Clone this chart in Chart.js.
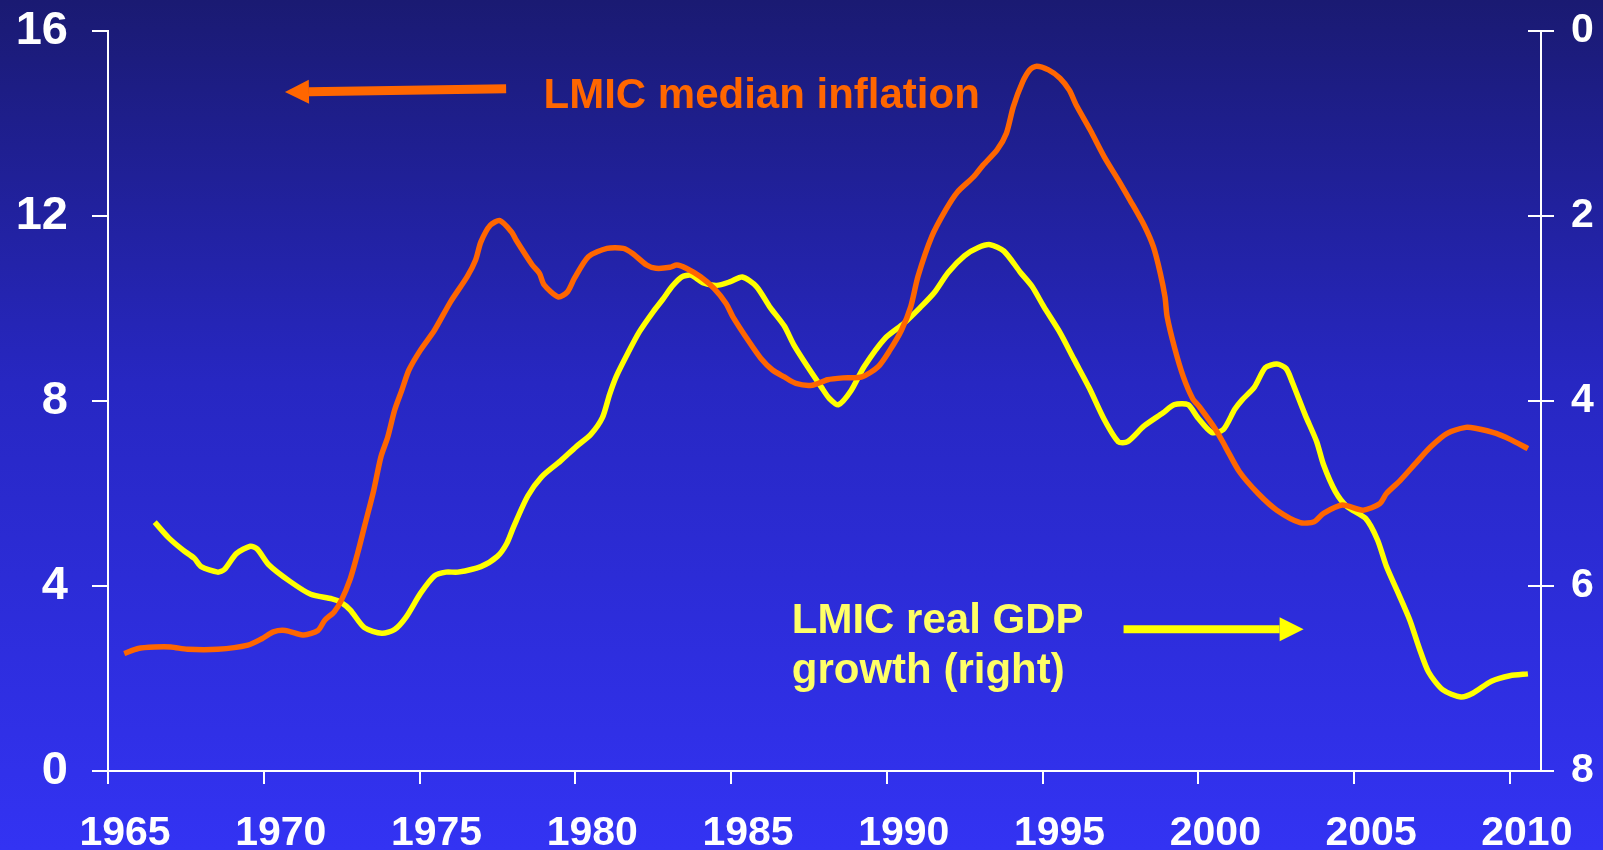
<!DOCTYPE html>
<html><head><meta charset="utf-8">
<script src="https://cdn.jsdelivr.net/npm/chart.js@4"></script>
<style>html,body{margin:0;padding:0;background:#1a1a72;overflow:hidden}canvas{display:block}</style>
</head><body>
<canvas id="c" width="1603" height="850"></canvas>
<script>
// ---- data ----
const inflationYears = [1965.52,1965.97,1966.5,1967.02,1967.55,1968.52,1969.49,1969.94,1970.31,1970.69,1971.29,1971.74,1971.96,1972.26,1972.49,1972.78,1973.01,1973.23,1973.53,1973.76,1973.98,1974.2,1974.43,1974.66,1975.03,1975.48,1976.0,1976.53,1976.8,1976.97,1977.27,1977.58,1977.95,1978.1,1978.62,1978.85,1979.0,1979.45,1979.75,1979.97,1980.42,1981.02,1981.54,1981.84,1982.29,1982.59,1983.04,1983.26,1983.56,1984.01,1984.46,1984.84,1985.06,1985.58,1985.96,1986.33,1986.71,1987.08,1987.6,1988.1,1988.6,1989.2,1989.72,1990.1,1990.47,1990.77,1991.0,1991.44,1991.89,1992.27,1992.79,1993.09,1993.54,1993.84,1994.06,1994.36,1994.59,1994.81,1995.19,1995.56,1995.86,1996.08,1996.53,1996.98,1997.43,1997.81,1998.26,1998.56,1998.78,1998.93,1999.0,1999.23,1999.52,1999.82,2000.04,2000.57,2000.87,2001.32,2001.92,2002.52,2003.27,2003.72,2004.02,2004.62,2005.29,2005.82,2006.04,2006.49,2007.01,2007.46,2007.99,2008.59,2008.89,2009.56,2010.01,2010.58];
const inflationValues = [2.54,2.65,2.68,2.68,2.63,2.63,2.72,2.86,3.01,3.04,2.94,3.04,3.26,3.44,3.69,4.16,4.70,5.28,6.07,6.79,7.22,7.80,8.23,8.67,9.10,9.53,10.15,10.69,11.05,11.44,11.80,11.90,11.66,11.48,10.94,10.76,10.51,10.25,10.36,10.65,11.12,11.30,11.30,11.19,10.94,10.87,10.89,10.94,10.87,10.69,10.43,10.11,9.82,9.28,8.92,8.67,8.52,8.38,8.34,8.46,8.50,8.52,8.74,9.10,9.53,10.04,10.69,11.55,12.13,12.52,12.85,13.10,13.43,13.79,14.36,14.90,15.16,15.24,15.16,14.98,14.72,14.40,13.86,13.28,12.78,12.34,11.80,11.33,10.76,10.25,9.82,9.17,8.52,8.05,7.87,7.37,7.01,6.47,6.00,5.64,5.37,5.39,5.57,5.75,5.64,5.78,6.00,6.29,6.68,7.01,7.30,7.43,7.41,7.30,7.17,6.97];

const gdpYears = [1966.5,1966.95,1967.4,1967.77,1967.99,1968.52,1968.74,1969.12,1969.57,1969.79,1970.16,1970.84,1971.51,1972.19,1972.49,1972.78,1973.23,1973.79,1974.2,1974.58,1975.03,1975.48,1975.85,1976.23,1976.97,1977.5,1977.8,1978.02,1978.47,1978.92,1979.52,1980.04,1980.5,1980.87,1981.1,1981.32,1981.69,1982.06,1982.51,1982.81,1983.11,1983.41,1983.71,1984.09,1984.54,1984.98,1985.36,1985.81,1986.26,1986.71,1987.01,1987.46,1987.9,1988.15,1988.45,1988.85,1989.27,1989.95,1990.55,1991.07,1991.52,1991.97,1992.49,1992.94,1993.32,1993.76,1994.29,1994.66,1995.04,1995.56,1996.01,1996.5,1996.98,1997.43,1997.73,1998.26,1998.86,1999.23,1999.67,1999.98,2000.43,2000.8,2001.17,2001.4,2001.8,2002.15,2002.52,2002.82,2003.02,2003.43,2003.8,2004.02,2004.4,2004.77,2005.37,2005.75,2006.04,2006.42,2006.79,2007.09,2007.39,2007.84,2008.43,2008.81,2009.41,2010.0,2010.58];
const gdpValues = [5.31,5.48,5.61,5.70,5.79,5.85,5.82,5.65,5.57,5.60,5.77,5.95,6.09,6.14,6.18,6.26,6.45,6.51,6.47,6.33,6.08,5.89,5.85,5.85,5.79,5.68,5.54,5.36,5.03,4.82,4.65,4.49,4.36,4.18,3.93,3.73,3.48,3.25,3.03,2.90,2.76,2.66,2.64,2.72,2.75,2.71,2.66,2.76,2.99,3.19,3.39,3.63,3.85,3.97,4.04,3.89,3.63,3.32,3.16,2.99,2.83,2.61,2.43,2.34,2.31,2.38,2.61,2.76,2.98,3.26,3.55,3.86,4.20,4.44,4.44,4.27,4.13,4.04,4.04,4.18,4.34,4.31,4.09,3.99,3.85,3.64,3.60,3.65,3.80,4.15,4.44,4.69,4.98,5.14,5.27,5.50,5.79,6.08,6.37,6.67,6.93,7.12,7.20,7.16,7.03,6.97,6.95];

const yearTicks = [1965,1970,1975,1980,1985,1990,1995,2000,2005,2010];
const leftTicks = [0,4,8,12,16];
const rightTicks = [0,2,4,6,8];

const inflationLabel = 'LMIC median inflation';
const gdpLabel = ['LMIC real GDP', 'growth (right)'];

// ---- styling ----
const FONT = '"Liberation Sans", Arial, sans-serif';
const ORANGE = '#ff6600';
const YELLOW = '#ffff00';
const YELLOW_TEXT = '#ffff66';

const toPoints = (xs, ys) => xs.map((x, i) => ({x: x, y: ys[i]}));

const bgPlugin = {
  id: 'bg',
  beforeDraw(chart) {
    const c = chart.ctx;
    const g = c.createLinearGradient(0, 0, 0, chart.height);
    g.addColorStop(0, '#1a1a72');
    g.addColorStop(0.45, '#2727c2');
    g.addColorStop(1, '#3333f3');
    c.save();
    c.fillStyle = g;
    c.fillRect(0, 0, chart.width, chart.height);
    c.restore();
  }
};

function arrow(c, x1, y1, x2, y2, color, shaft, headLen, headHalf) {
  const ang = Math.atan2(y2 - y1, x2 - x1);
  const bx = x2 - Math.cos(ang) * headLen, by = y2 - Math.sin(ang) * headLen;
  c.save();
  c.strokeStyle = color; c.fillStyle = color; c.lineWidth = shaft; c.lineCap = 'butt';
  c.beginPath(); c.moveTo(x1, y1); c.lineTo(bx, by); c.stroke();
  c.beginPath();
  c.moveTo(x2, y2);
  c.lineTo(bx + Math.sin(ang) * headHalf, by - Math.cos(ang) * headHalf);
  c.lineTo(bx - Math.sin(ang) * headHalf, by + Math.cos(ang) * headHalf);
  c.closePath(); c.fill();
  c.restore();
}

const annotPlugin = {
  id: 'annot',
  afterDraw(chart) {
    const c = chart.ctx;
    const xs = chart.scales.x, ys = chart.scales.y, y2 = chart.scales.y2;
    const area = chart.chartArea;
    // inner half of right-axis cross ticks
    c.save();
    c.strokeStyle = '#ffffff'; c.lineWidth = 2;
    y2.ticks.forEach(t => {
      const py = y2.getPixelForValue(t.value);
      c.beginPath(); c.moveTo(area.right - 13, py); c.lineTo(area.right, py); c.stroke();
    });
    c.restore();

    // orange arrow + label
    arrow(c, xs.getPixelForValue(1977.78), ys.getPixelForValue(14.75),
             xs.getPixelForValue(1970.68), ys.getPixelForValue(14.68), ORANGE, 9, 24, 12);
    c.save();
    c.font = 'bold 42px ' + FONT;
    c.textBaseline = 'alphabetic'; c.textAlign = 'left';
    c.fillStyle = ORANGE;
    c.fillText(inflationLabel, xs.getPixelForValue(1978.98), ys.getPixelForValue(14.33));
    c.fillStyle = YELLOW_TEXT;
    c.fillText(gdpLabel[0], xs.getPixelForValue(1986.95), ys.getPixelForValue(2.98));
    c.fillText(gdpLabel[1], xs.getPixelForValue(1986.95), ys.getPixelForValue(1.90));
    c.restore();
    // yellow arrow
    arrow(c, xs.getPixelForValue(1997.6), ys.getPixelForValue(3.065),
             xs.getPixelForValue(2003.38), ys.getPixelForValue(3.065), YELLOW, 8, 24, 12);
  }
};

const noVertOverflow = s => { s.paddingTop = 0; s.paddingBottom = 0; };

new Chart(document.getElementById('c'), {
  type: 'line',
  data: {
    datasets: [
      { label: inflationLabel, data: toPoints(inflationYears, inflationValues), yAxisID: 'y',
        borderColor: ORANGE, borderWidth: 5.5, pointRadius: 0, tension: 0.25, fill: false },
      { label: gdpLabel.join(' '), data: toPoints(gdpYears, gdpValues), yAxisID: 'y2',
        borderColor: YELLOW, borderWidth: 5.5, pointRadius: 0, tension: 0.25, fill: false }
    ]
  },
  options: {
    responsive: false,
    animation: false,
    devicePixelRatio: 1,
    layout: { padding: { top: 31, left: 0, right: 0, bottom: 0 } },
    plugins: { legend: { display: false }, tooltip: { enabled: false } },
    scales: {
      x: {
        type: 'linear', position: 'bottom', min: 1965, max: 2011,
        afterBuildTicks: s => { s.ticks = yearTicks.map(v => ({ value: v })); },
        afterFit: s => { s.height = 79; s.paddingLeft = 0; s.paddingRight = 0; },
        ticks: { color: '#ffffff', font: { family: FONT, size: 41, weight: 'bold' },
                 padding: 25, labelOffset: 17, maxRotation: 0, autoSkip: false,
                 callback: v => String(v) },
        grid: { drawOnChartArea: false, drawTicks: true, tickLength: 13, color: '#ffffff', lineWidth: 2 },
        border: { display: true, color: '#ffffff', width: 2 }
      },
      y: {
        type: 'linear', position: 'left', min: 0, max: 16,
        afterBuildTicks: s => { s.ticks = leftTicks.map(v => ({ value: v })); },
        afterFit: s => { s.width = 108; noVertOverflow(s); },
        ticks: { color: '#ffffff', font: { family: FONT, size: 47, weight: 'bold' }, padding: 24,
                 callback: v => String(v) },
        grid: { drawOnChartArea: false, drawTicks: true, tickLength: 16, color: '#ffffff', lineWidth: 2 },
        border: { display: true, color: '#ffffff', width: 2 }
      },
      y2: {
        type: 'linear', position: 'right', min: 0, max: 8, reverse: true,
        afterBuildTicks: s => { s.ticks = rightTicks.map(v => ({ value: v })); },
        afterFit: s => { s.width = 62; noVertOverflow(s); },
        ticks: { color: '#ffffff', font: { family: FONT, size: 41, weight: 'bold' }, padding: 17,
                 callback: v => String(v) },
        grid: { drawOnChartArea: false, drawTicks: true, tickLength: 13, color: '#ffffff', lineWidth: 2 },
        border: { display: true, color: '#ffffff', width: 2 }
      }
    }
  },
  plugins: [bgPlugin, annotPlugin]
});
</script>
</body></html>
